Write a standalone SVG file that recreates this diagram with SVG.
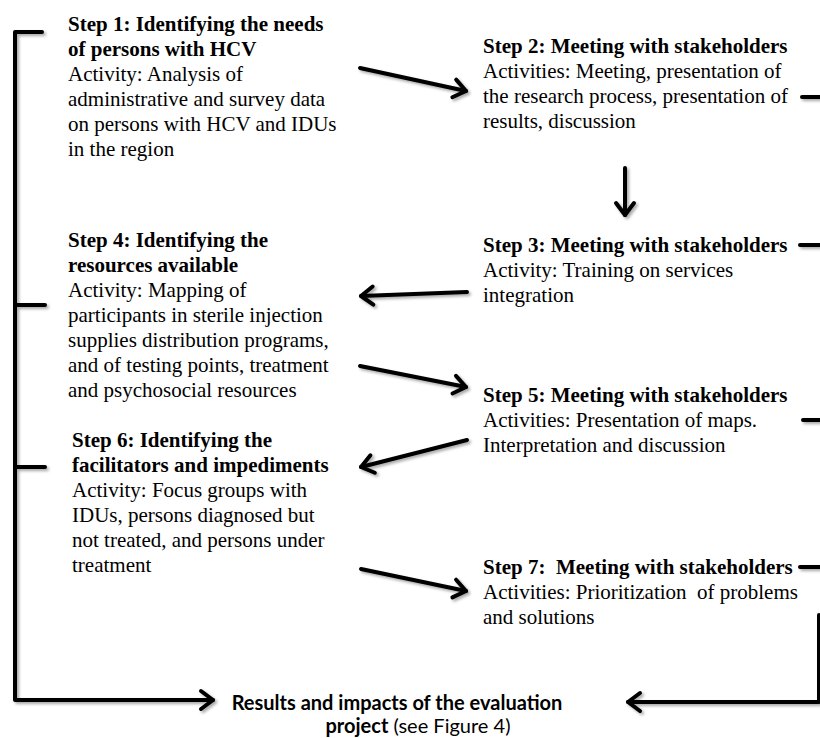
<svg xmlns="http://www.w3.org/2000/svg" width="820" height="738" viewBox="0 0 820 738">
<defs>
<style>
.t{font-family:"Liberation Serif","Times New Roman",serif;font-size:21px;fill:#000}
.b{font-weight:bold}
.s{font-family:Lato,"Open Sans",sans-serif;font-size:20px;fill:#000}
.ln{fill:none;stroke:#000;stroke-width:4;stroke-linecap:round;stroke-linejoin:round}
</style>
<filter id="sh" x="-10%" y="-10%" width="130%" height="130%">
<feGaussianBlur in="SourceAlpha" stdDeviation="1.5"/>
<feOffset dx="1.5" dy="2" result="o"/>
<feComponentTransfer><feFuncA type="linear" slope="0.35"/></feComponentTransfer>
<feMerge><feMergeNode/><feMergeNode in="SourceGraphic"/></feMerge>
</filter>
<marker id="ah" viewBox="-16 -12 20 24" markerWidth="20" markerHeight="24" refX="0" refY="0" orient="auto" markerUnits="userSpaceOnUse" overflow="visible">
<path d="M-12,-9 L0,0 L-12,9" fill="none" stroke="#000" stroke-width="4" stroke-linecap="round" stroke-linejoin="round"/>
</marker>
</defs>
<rect width="820" height="738" fill="#fff"/>
<g id="connectors" filter="url(#sh)">
<path class="ln" d="M42,32 H15 V700 H213" marker-end="url(#ah)"/>
<path class="ln" d="M15,305 H45"/>
<path class="ln" d="M15,467 H45"/>
<path class="ln" d="M802,97 H822"/>
<path class="ln" d="M800,245 H822"/>
<path class="ln" d="M803,420 H822"/>
<path class="ln" d="M800,567 H822"/>
<path class="ln" d="M819,615 V702 H628" marker-end="url(#ah)"/>
<path class="ln" d="M360,68 L466,91" marker-end="url(#ah)"/>
<path class="ln" d="M625,168 V215" marker-end="url(#ah)"/>
<path class="ln" d="M467,292 L361,296" marker-end="url(#ah)"/>
<path class="ln" d="M360,366 L466,387" marker-end="url(#ah)"/>
<path class="ln" d="M467,440 L361,467" marker-end="url(#ah)"/>
<path class="ln" d="M361,569 L466,591" marker-end="url(#ah)"/>
</g>
<g id="step1">
<text class="t" x="68" y="31"><tspan class="b">Step 1: Identifying the needs</tspan><tspan class="b" x="68" dy="25">of persons with HCV</tspan><tspan x="68" dy="25">Activity: Analysis of</tspan><tspan x="68" dy="25">administrative and survey data</tspan><tspan x="68" dy="25">on persons with HCV and IDUs</tspan><tspan x="68" dy="25">in the region</tspan></text>
</g>
<g id="step2">
<text class="t" x="483" y="53"><tspan class="b">Step 2: Meeting with stakeholders</tspan><tspan x="483" dy="25">Activities: Meeting, presentation of</tspan><tspan x="483" dy="25">the research process, presentation of</tspan><tspan x="483" dy="25">results, discussion</tspan></text>
</g>
<g id="step3">
<text class="t" x="483" y="252"><tspan class="b">Step 3: Meeting with stakeholders</tspan><tspan x="483" dy="25">Activity: Training on services</tspan><tspan x="483" dy="25">integration</tspan></text>
</g>
<g id="step4">
<text class="t" x="68" y="247"><tspan class="b">Step 4: Identifying the</tspan><tspan class="b" x="68" dy="25">resources available</tspan><tspan x="68" dy="25">Activity: Mapping of</tspan><tspan x="68" dy="25">participants in sterile injection</tspan><tspan x="68" dy="25">supplies distribution programs,</tspan><tspan x="68" dy="25">and of testing points, treatment</tspan><tspan x="68" dy="25">and psychosocial resources</tspan></text>
</g>
<g id="step5">
<text class="t" x="483" y="402"><tspan class="b">Step 5: Meeting with stakeholders</tspan><tspan x="483" dy="25">Activities: Presentation of maps.</tspan><tspan x="483" dy="25">Interpretation and discussion</tspan></text>
</g>
<g id="step6">
<text class="t" x="72" y="447"><tspan class="b">Step 6: Identifying the</tspan><tspan class="b" x="72" dy="25">facilitators and impediments</tspan><tspan x="72" dy="25">Activity: Focus groups with</tspan><tspan x="72" dy="25">IDUs, persons diagnosed but</tspan><tspan x="72" dy="25">not treated, and persons under</tspan><tspan x="72" dy="25">treatment</tspan></text>
</g>
<g id="step7">
<text class="t" x="483" y="574" xml:space="preserve"><tspan class="b">Step 7:  Meeting with stakeholders</tspan><tspan x="483" dy="25">Activities: Prioritization  of problems</tspan><tspan x="483" dy="25">and solutions</tspan></text>
</g>
<g id="results">
<text class="s" x="397" y="710" text-anchor="middle"><tspan font-weight="bold">Results and impacts of the evaluation</tspan></text>
<text class="s" x="418" y="733" text-anchor="middle"><tspan font-weight="bold">project</tspan> (see Figure 4)</text>
</g>
</svg>
